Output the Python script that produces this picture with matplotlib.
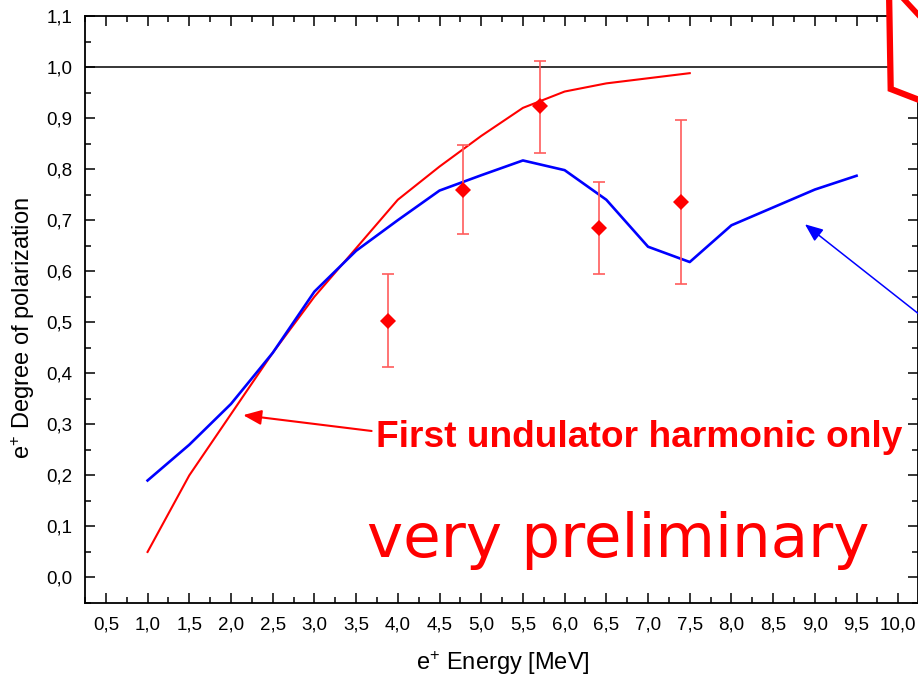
import matplotlib
matplotlib.use("Agg")
import matplotlib.pyplot as plt
from matplotlib.ticker import FixedLocator, FixedFormatter, MultipleLocator
from matplotlib.patches import Polygon
from matplotlib.lines import Line2D

# ---- data ----
energy_first = [1.0, 1.5, 2.0, 2.5, 3.0, 3.5, 4.0, 4.5, 5.0, 5.5, 6.0, 6.5, 7.0, 7.5]
pol_first = [0.05, 0.20, 0.32, 0.44, 0.55, 0.645, 0.74, 0.805, 0.865, 0.92, 0.952, 0.968, 0.978, 0.988]

energy_full = [1.0, 1.5, 2.0, 2.5, 3.0, 3.5, 4.0, 4.5, 5.0, 5.5, 6.0, 6.5, 7.0, 7.5, 8.0, 8.5, 9.0, 9.5]
pol_full = [0.19, 0.26, 0.34, 0.44, 0.56, 0.64, 0.70, 0.758, 0.788, 0.817, 0.798, 0.74, 0.648, 0.618, 0.69, 0.725, 0.76, 0.787]

meas_energy = [3.88, 4.78, 5.70, 6.41, 7.39]
meas_pol = [0.502, 0.760, 0.923, 0.685, 0.736]
meas_err_low = [0.090, 0.087, 0.092, 0.091, 0.162]
meas_err_high = [0.092, 0.087, 0.088, 0.089, 0.160]

x_ticks = [0.5, 1.0, 1.5, 2.0, 2.5, 3.0, 3.5, 4.0, 4.5, 5.0, 5.5, 6.0, 6.5, 7.0, 7.5, 8.0, 8.5, 9.0, 9.5, 10.0]
x_labels = ["0,5", "1,0", "1,5", "2,0", "2,5", "3,0", "3,5", "4,0", "4,5", "5,0",
            "5,5", "6,0", "6,5", "7,0", "7,5", "8,0", "8,5", "9,0", "9,5", "10,0"]
y_ticks = [0.0, 0.1, 0.2, 0.3, 0.4, 0.5, 0.6, 0.7, 0.8, 0.9, 1.0, 1.1]
y_labels = ["0,0", "0,1", "0,2", "0,3", "0,4", "0,5", "0,6", "0,7", "0,8", "0,9", "1,0", "1,1"]

# ---- style ----
plt.rcParams['font.family'] = ['Liberation Sans', 'DejaVu Sans']
plt.rcParams['mathtext.fontset'] = 'custom'
plt.rcParams['mathtext.rm'] = 'Liberation Sans'
plt.rcParams['mathtext.it'] = 'Liberation Sans:italic'

W, H = 918, 681
fig = plt.figure(figsize=(W / 100, H / 100), dpi=100)
ax = fig.add_axes([85 / W, 1 - 603 / H, (917.7 - 85) / W, (603 - 16) / H])

ax.set_xlim(0.25, 10.233)
ax.set_ylim(-0.05, 1.1)

ax.axhline(1.0, color='black', lw=1.1, zorder=1)

ax.plot(energy_first, pol_first, color='#ff0000', lw=1.5, zorder=3)
ax.plot(energy_full, pol_full, color='#0000ff', lw=1.9, zorder=4)
ax.errorbar(meas_energy, meas_pol, yerr=[meas_err_low, meas_err_high], fmt='none',
            ecolor='#ff5c5c', elinewidth=1.2, capsize=4, capthick=1.2, zorder=5)
ax.plot(meas_energy, meas_pol, linestyle='none', marker='D', markersize=8,
        color='#ff0000', markeredgewidth=0, zorder=6)

# ticks
ax.xaxis.set_major_locator(FixedLocator(x_ticks))
ax.xaxis.set_major_formatter(FixedFormatter(x_labels))
ax.xaxis.set_minor_locator(MultipleLocator(0.25))
ax.yaxis.set_major_locator(FixedLocator(y_ticks))
ax.yaxis.set_major_formatter(FixedFormatter(y_labels))
ax.yaxis.set_minor_locator(MultipleLocator(0.05))
ax.tick_params(which='both', direction='in', top=True, right=True, width=1.1, colors='black')
ax.tick_params(which='major', length=7.5)
ax.tick_params(which='minor', length=4)
ax.tick_params(axis='x', which='major', labelsize=13.5, pad=10)
ax.tick_params(axis='y', which='major', labelsize=13.5, pad=9)
for s in ax.spines.values():
    s.set_linewidth(1.3)

ax.set_xlabel(r'e$^{+}$ Energy [MeV]', fontsize=17)
ax.set_ylabel(r'e$^{+}$ Degree of polarization', fontsize=17)
ax.xaxis.set_label_coords(0.5014, -0.078)
ax.yaxis.set_label_coords(-0.0576, 0.469)

# annotations
ax.text(3.737, 0.256, 'First undulator harmonic only', color='#ff0000', fontsize=26.7,
        fontweight='bold', ha='left', va='baseline', zorder=7)
ax.annotate('', xy=(2.146, 0.318), xytext=(3.686, 0.287),
            arrowprops=dict(arrowstyle='-|>,head_length=1.1,head_width=0.45',
                            color='#ff0000', lw=1.5, mutation_scale=10,
                            shrinkA=0, shrinkB=0), zorder=7)
ax.text(3.63, 0.0405, 'very preliminary', color='#ff0000', fontsize=44,
        family=['DejaVu Sans'], ha='left', va='baseline', zorder=7)
ax.annotate('', xy=(8.881, 0.692), xytext=(10.38, 0.499),
            arrowprops=dict(arrowstyle='-|>,head_length=1.1,head_width=0.45',
                            color='#0000ff', lw=1.1, mutation_scale=10,
                            shrinkA=0, shrinkB=0),
            annotation_clip=False, zorder=7)

# red callout box at top right (partially visible)
def px(x, y):
    return (x / W, 1 - y / H)

box = Polygon([px(889, -10), px(890.7, 89), px(940, 108), px(940, -10)],
              closed=True, transform=fig.transFigure, facecolor='white',
              edgecolor='#ff0000', lw=4.5, joinstyle='miter', zorder=5)
fig.add_artist(box)
diag = Line2D([900 / W, 925 / W], [1 + 5 / H, 1 - 22 / H], transform=fig.transFigure,
              color='#ff0000', lw=4.0, zorder=6)
fig.add_artist(diag)

fig.savefig('out.png', dpi=100)
